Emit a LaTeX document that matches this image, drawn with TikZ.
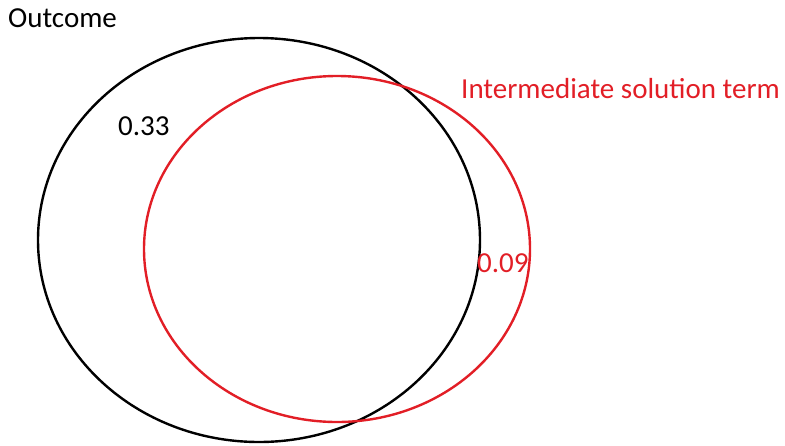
\documentclass[tikz,border=0pt]{standalone}
\usepackage{fontspec}
\setmainfont{Carlito}
\definecolor{vred}{RGB}{226,30,38}
\begin{document}
\begin{tikzpicture}[x=1pt,y=-1pt,
  lbl/.style={anchor=base west,inner sep=0pt,font=\fontsize{29}{31}\selectfont},
  setline/.style={line width=2.4pt}]
\useasboundingbox (0,0) rectangle (785,445);
\draw[setline,black] (259,240) ellipse [x radius=221, y radius=202];
\draw[setline,vred] (337,249) ellipse [x radius=193, y radius=173];
\node[lbl] (outcome) at (8,27) {Outcome};
\node[lbl,text=vred] (term) at (461,98) {Intermediate solution term};
\node[lbl] (a) at (118,135) {0.33};
\node[lbl,text=vred] (b) at (477,272) {0.09};
\end{tikzpicture}
\end{document}
